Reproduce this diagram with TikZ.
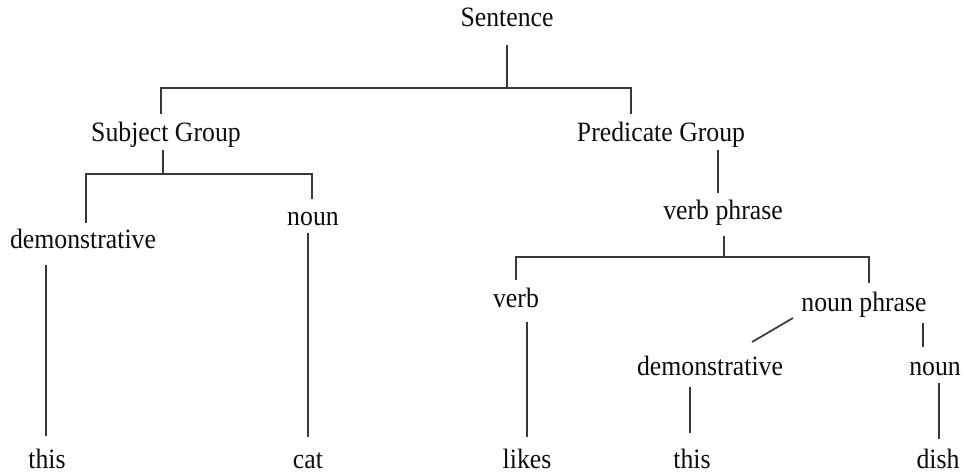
\documentclass[tikz,border=0pt]{standalone}
\usepackage{fontspec}
\setmainfont{Liberation Serif}
\usetikzlibrary{calc}
% slightly narrowed serif lettering
\newcommand{\treelabel}[1]{\scalebox{0.92}[1]{#1}}
\tikzset{
  word/.style={anchor=base, inner sep=0pt, outer sep=0pt,
    text height=20pt, text depth=6pt, text=black!95,
    font=\fontsize{28}{30}\selectfont},
  leaf/.style={word, text depth=3pt},
  branch/.style={draw=black!78, line width=1.7pt}
}
\begin{document}
\begin{tikzpicture}[x=1pt, y=-1pt]
\useasboundingbox (0,0) rectangle (964,473);
\fill[white] (0,0) rectangle (964,473);

% words, placed on their baselines
\node[word] (sent)  at (507,27)  {\treelabel{Sentence}};
\node[word] (subj)  at (166,142) {\treelabel{Subject Group}};
\node[word] (pred)  at (661,142) {\treelabel{Predicate Group}};
\node[word] (demA)  at (83,249)  {\treelabel{demonstrative}};
\node[word] (nounA) at (313,226) {\treelabel{noun}};
\node[leaf] (thisA) at (47,468)  {\treelabel{this}};
\node[leaf] (cat)   at (308,468) {\treelabel{cat}};
\node[word] (vp)    at (723,220) {\treelabel{verb phrase}};
\node[word] (verb)  at (516,307) {\treelabel{verb}};
\node[word] (np)    at (864,311) {\treelabel{noun phrase}};
\node[leaf] (likes) at (527,468) {\treelabel{likes}};
\node[word] (demB)  at (710,375) {\treelabel{demonstrative}};
\node[word] (nounB) at (935,375) {\treelabel{noun}};
\node[leaf] (thisB) at (692,468) {\treelabel{this}};
\node[leaf] (dish)  at (938,468) {\treelabel{dish}};

% fork junctions
\coordinate (forkS)  at (507,88);
\coordinate (forkSl) at (161,88);
\coordinate (forkSr) at (631,88);
\coordinate (forkG)  at (163,174);
\coordinate (forkGl) at (86,174);
\coordinate (forkGr) at (312,174);
\coordinate (forkV)  at (724,257);
\coordinate (forkVl) at (516,257);
\coordinate (forkVr) at (869,257);

% Sentence -> Subject Group / Predicate Group
\draw[branch] ($(sent.south)+(0,12)$) -- (forkS);
\draw[branch] ($(subj.north)+(-5,-8)$) -- (forkSl) -- (forkSr) -- ($(pred.north)+(-30,-8)$);

% Subject Group -> demonstrative / noun
\draw[branch] ($(subj.south)+(-3,2)$) -- (forkG);
\draw[branch] ($(demA.north)+(3,-6)$) -- (forkGl) -- (forkGr) -- ($(nounA.north)+(-1,-7)$);
\draw[branch] ($(demA.south)+(-37,10)$) -- ($(thisA.north)+(-1,-12)$);
\draw[branch] ($(nounA.south)+(-5,1)$) -- ($(cat.north)+(0,-11)$);

% Predicate Group -> verb phrase
\draw[branch] ($(pred.south)+(57,2)$) -- ($(vp.north)+(-5,-7)$);

% verb phrase -> verb / noun phrase
\draw[branch] ($(vp.south)+(1,10)$) -- (forkV);
\draw[branch] ($(verb.north)+(0,-7)$) -- (forkVl) -- (forkVr) -- ($(np.north)+(5,-8)$);
\draw[branch] ($(verb.south)+(11,9)$) -- ($(likes.north)+(0,-11)$);

% noun phrase -> demonstrative / noun
\draw[branch] ($(np.south)+(-71,1)$) -- ($(demB.north)+(42,-13)$);
\draw[branch] ($(np.south)+(59,6)$) -- ($(nounB.north)+(-12,-8)$);
\draw[branch] ($(demB.south)+(-20,6)$) -- ($(thisB.north)+(-2,-15)$);
\draw[branch] ($(nounB.south)+(4,2)$) -- ($(dish.north)+(1,-9)$);
\end{tikzpicture}
\end{document}
